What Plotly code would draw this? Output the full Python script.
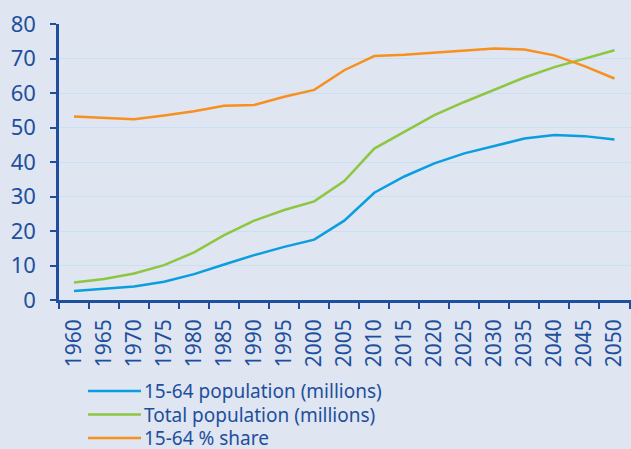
import plotly.graph_objects as go

years = [str(y) for y in range(1960, 2055, 5)]
pop_15_64 = [2.6, 3.2, 3.9, 5.3, 7.5, 10.3, 13.0, 15.4, 17.5, 23.0, 31.1,
             35.8, 39.6, 42.5, 44.7, 46.8, 47.8, 47.5, 46.5]
pop_total = [5.1, 6.1, 7.7, 10.1, 13.8, 18.8, 23.0, 26.1, 28.6, 34.5, 43.9,
             48.7, 53.6, 57.4, 61.0, 64.5, 67.5, 70.0, 72.4]
share_15_64 = [53.2, 52.9, 52.4, 53.5, 54.7, 56.3, 56.5, 58.9, 60.9, 66.6, 70.7,
               71.1, 71.7, 72.4, 72.9, 72.6, 70.9, 67.8, 64.2]
series_names = ["15-64 population (millions)", "Total population (millions)", "15-64 % share"]
series_colors = ["#0a9ee0", "#8dc63f", "#f7901e"]
divider_year = "2010"

dark_blue = "#1d4f9d"
font_family = "Noto Sans"

W, H = 631, 449
ML, MR, MT, MB = 59, 0, 24, 149
plot_w, plot_h = W - ML - MR, H - MT - MB

fig = go.Figure()
for name, vals, color in zip(series_names, [pop_15_64, pop_total, share_15_64], series_colors):
    fig.add_trace(go.Scatter(x=years, y=vals, mode="lines", name=name,
                             line=dict(color=color, width=2.5)))

# divider between history and projections
fig.add_shape(type="line", xref="x", yref="y", x0=divider_year, x1=divider_year,
              y0=0.8, y1=80, line=dict(color=dark_blue, width=2.5))

# hand-placed legend below the axis (plotly's own legend spaces rows too far apart)
def px_x(px):
    return (px - ML) / plot_w

def px_y(py):
    return (H - MB - py) / plot_h

for i, (name, color) in enumerate(zip(series_names, series_colors)):
    row_y = 391 + i * 23.5
    fig.add_shape(type="line", xref="paper", yref="paper",
                  x0=px_x(88), x1=px_x(141), y0=px_y(row_y), y1=px_y(row_y),
                  line=dict(color=color, width=2.5))
    fig.add_annotation(xref="paper", yref="paper", x=px_x(143), y=px_y(row_y),
                       xanchor="left", yanchor="middle", showarrow=False,
                       text=name, font=dict(size=19, color=dark_blue),
                       borderpad=0)

fig.update_layout(
    width=W, height=H,
    margin=dict(l=ML, r=MR, t=MT, b=MB),
    paper_bgcolor="#dfe5f1", plot_bgcolor="#dfe5f1",
    font=dict(family=font_family, color=dark_blue),
    showlegend=False,
)
fig.update_xaxes(type="category", tickson="boundaries", showgrid=False,
                 showline=True, linecolor=dark_blue, linewidth=2.5,
                 ticks="outside", ticklen=6, tickwidth=2, tickcolor=dark_blue,
                 tickangle=-90, tickfont=dict(size=21, color=dark_blue),
                 ticklabelstandoff=8, range=[-0.5, 18.55], automargin=False)
fig.update_yaxes(range=[0, 80], dtick=10, showgrid=True, gridcolor="#c9dff3",
                 gridwidth=1, zeroline=False,
                 showline=True, linecolor=dark_blue, linewidth=2.5,
                 ticks="outside", ticklen=6, tickwidth=2, tickcolor=dark_blue,
                 tickfont=dict(size=22, color=dark_blue), ticklabelstandoff=10,
                 automargin=False)

fig.write_html("out.html", config={"displayModeBar": False},
               post_script="document.body.style.margin='0';")
